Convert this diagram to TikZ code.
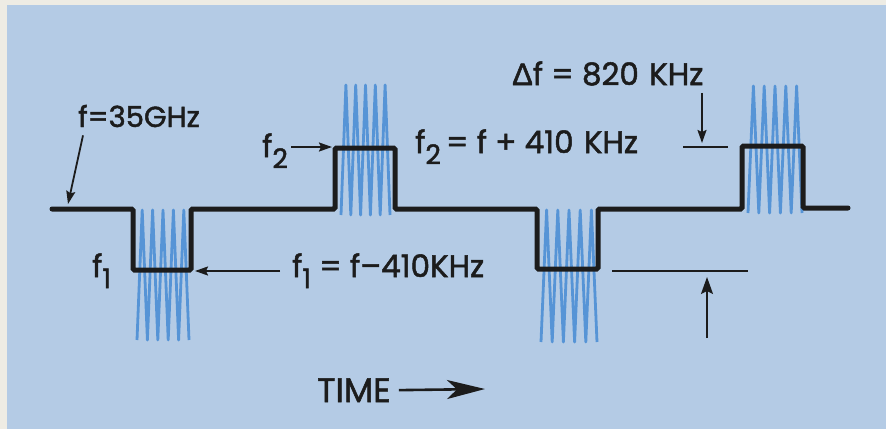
\documentclass[tikz,border=0pt]{standalone}
\usepackage{fontspec}
\setmainfont{Poppins}[FakeBold=1.6]
\newfontfamily\deltafont{Liberation Sans}[FakeBold=1.6]
\usetikzlibrary{arrows.meta}

\definecolor{paper}{RGB}{238,236,228}
\definecolor{sky}{RGB}{180,203,229}
\definecolor{noiseblue}{RGB}{86,148,214}
\definecolor{ink}{RGB}{28,28,28}

\tikzset{
  wave/.style={line width=5pt,color=ink,line cap=round,rounded corners=1.5pt},
  noise/.style={line width=2.8pt,color=noiseblue,line join=round},
  arr/.style={line width=1.8pt,color=ink,-{Stealth[length=13pt,width=9pt,inset=2pt]}},
  bigarr/.style={line width=2.6pt,color=ink,-{Stealth[length=38pt,width=19pt,inset=10pt]}},
  tick/.style={line width=2.5pt,color=ink},
  lbl/.style={inner sep=0pt,text=ink,font=\fontsize{31}{33}\selectfont}
}
% lowered subscript as lettered on the drawing
\newcommand\lowsub[1]{\raisebox{-0.36em}{\fontsize{27}{27}\selectfont #1}}
% zigzag noise: x left, x right, y top, y bottom
\newcommand\noiseband[4]{%
  \draw[noise] (#1,#4) \foreach \k in {1,...,5} {
    -- ({#1+(\k-0.5)*(#2-#1)/5},#3) -- ({#1+\k*(#2-#1)/5},#4) };
}

\begin{document}
\begin{tikzpicture}[x=1pt,y=-1pt]
	\fill[paper] (0,0) rectangle (886,429);
	\fill[sky] (7,5) rectangle (886,429);
	\useasboundingbox (0,0) rectangle (886,429);

	% noise bursts
	\noiseband{137}{189}{210}{340}
	\noiseband{341}{390}{85}{215}
	\noiseband{541}{597}{210}{342}
	\noiseband{748}{802}{86}{213}

	% carrier
	\draw[wave] (52,209) -- (133,209) -- (133,270) -- (191,270) -- (191,209)
		-- (335,209) -- (335,148) -- (395,148) -- (395,209) -- (537,209)
		-- (537,269) -- (598,269) -- (598,209) -- (742,209) -- (742,146)
		-- (803,146) -- (803,208) -- (848,208);

	% labels
	\node[lbl,anchor=base west,font=\fontsize{29}{31}\selectfont] (lbl35) at (78,127) {f=35GHz};
	\node[lbl,anchor=base west] (lblf2) at (262,157) {f\lowsub{2}};
	\node[lbl,anchor=base west] (lblf2eq) at (415,153) {f\lowsub{2}\,= f + 410\,\,KHz};
	\node[lbl,anchor=base west] (lbldf) at (512,85) {{\deltafont Δ}f = 820\,\,KHz};
	\node[lbl,anchor=base west] (lblf1) at (92,277) {f\lowsub{1}};
	\node[lbl,anchor=base west] (lblf1eq) at (292,277) {f\lowsub{1} = f–410KHz};
	\node[lbl,anchor=base west,font=\fontsize{34}{36}\selectfont] (lbltime) at (317,402) {TIME};

	% pointers
	\coordinate (p35) at (68,204);
	\coordinate (f2tip) at (332,147);
	\coordinate (f1tip) at (195,271);
	\coordinate (dftip) at (702,143);
	\coordinate (uptail) at (707,338);
	\coordinate (uptip) at (707,277);
	\coordinate (timetip) at (485,389);

	\draw[arr] ([xshift=5pt,yshift=-8pt]lbl35.south west) -- (p35);
	\draw[arr] ([xshift=3pt]lblf2.east |- f2tip) -- (f2tip);
	\draw[arr] ([xshift=-12pt]lblf1eq.west |- f1tip) -- (f1tip);
	\draw[arr] ([yshift=-7pt]dftip |- lbldf.south) -- (dftip);
	\draw[arr,-{Stealth[length=17pt,width=12pt,inset=3pt]}] (uptail) -- (uptip);
	\draw[bigarr] ([xshift=8pt]lbltime.east) -- (timetip);

	% level marks
	\draw[tick] (683,147) -- (728,147);
	\draw[tick] (612,271) -- (748,271);
\end{tikzpicture}
\end{document}
